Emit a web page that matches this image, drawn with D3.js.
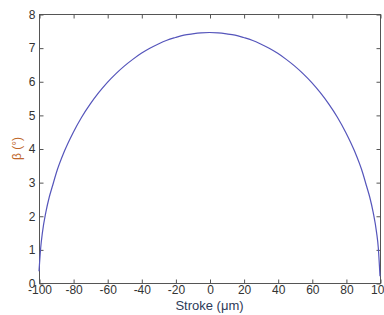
<!DOCTYPE html>
<html>
<head>
<meta charset="utf-8">
<script src="https://cdn.jsdelivr.net/npm/d3@7"></script>
<style>
body { margin: 0; background: #fff; }
svg { display: block; font-family: "Liberation Sans", Arial, sans-serif; }
</style>
</head>
<body>
<svg id="chart" width="384" height="315"></svg>
<script>
// stroke position (um) and tilt angle beta (deg)
var stroke = [-100, -99, -98, -96, -94, -92, -90, -85, -80, -75, -70, -65, -60, -55, -50, -45, -40, -35, -30, -25, -20, -15, -10, -5,
    0, 5, 10, 15, 20, 25, 30, 35, 40, 45, 50, 55, 60, 65, 70, 75, 80, 85, 90, 92, 94, 96, 98, 99, 100];
var beta = [0.35, 1.05, 1.5, 2.1, 2.55, 2.9, 3.25, 3.93, 4.47, 4.93, 5.32, 5.66, 5.96, 6.22, 6.45, 6.65, 6.83, 6.98, 7.11, 7.22, 7.3, 7.37, 7.41, 7.44,
    7.45, 7.44, 7.41, 7.37, 7.3, 7.22, 7.11, 6.98, 6.83, 6.65, 6.45, 6.22, 5.96, 5.66, 5.32, 4.93, 4.47, 3.93, 3.25, 2.9, 2.55, 2.1, 1.5, 1.05, 0.2];
var xTicks = [-100, -80, -60, -40, -20, 0, 20, 40, 60, 80, 100];
var yTicks = [0, 1, 2, 3, 4, 5, 6, 7, 8];

(function () {
    var svg = d3.select('#chart');
    var mLeft = 39, mRight = 380, mTop = 14, mBottom = 283;

    var x = d3.scaleLinear().domain([-100, 100]).range([mLeft, mRight]);
    var y = d3.scaleLinear().domain([0, 8]).range([mBottom, mTop]);

    var axisColor = '#555';
    var tickLen = 4;
    var plain = function (d) { return String(d); };

    // plot box
    svg.append('rect')
        .attr('x', mLeft + 0.5).attr('y', mTop + 0.5)
        .attr('width', mRight - mLeft).attr('height', mBottom - mTop)
        .attr('fill', 'none').attr('stroke', axisColor);

    function styleAxis(g) {
        g.select('.domain').remove();
        g.selectAll('.tick line').attr('stroke', axisColor);
        g.selectAll('.tick text').attr('fill', '#333').attr('font-size', 12)
            .attr('font-family', '"Liberation Sans", Arial, sans-serif');
    }

    svg.append('g')
        .attr('transform', 'translate(0.5,' + (mBottom + 0.5) + ')')
        .call(d3.axisBottom(x).tickValues(xTicks).tickSize(-tickLen).tickPadding(2).tickFormat(plain))
        .call(styleAxis);
    svg.append('g')
        .attr('transform', 'translate(0.5,' + (mTop + 0.5) + ')')
        .call(d3.axisTop(x).tickValues(xTicks).tickSize(-tickLen).tickFormat(''))
        .call(styleAxis);
    svg.append('g')
        .attr('transform', 'translate(' + (mLeft + 0.5) + ',0.5)')
        .call(d3.axisLeft(y).tickValues(yTicks).tickSize(-tickLen).tickPadding(4).tickFormat(plain))
        .call(styleAxis);
    svg.append('g')
        .attr('transform', 'translate(' + (mRight + 0.5) + ',0.5)')
        .call(d3.axisRight(y).tickValues(yTicks).tickSize(-tickLen).tickFormat(''))
        .call(styleAxis);

    // curve
    var line = d3.line()
        .x(function (d, i) { return x(stroke[i]); })
        .y(function (d) { return y(d); })
        .curve(d3.curveMonotoneX);

    svg.append('path')
        .datum(beta)
        .attr('d', line)
        .attr('fill', 'none')
        .attr('stroke', '#5555bb')
        .attr('stroke-width', 1.2);

    // labels
    svg.append('text')
        .attr('x', (mLeft + mRight) / 2).attr('y', 310)
        .attr('text-anchor', 'middle')
        .attr('font-size', 13)
        .attr('fill', '#2e3b58')
        .text('Stroke (\u03bcm)');

    svg.append('text')
        .attr('transform', 'translate(21,' + ((mTop + mBottom) / 2) + ') rotate(-90)')
        .attr('text-anchor', 'middle')
        .attr('font-size', 12)
        .attr('fill', '#c0662a')
        .text('\u03b2 (\u00b0)');
})();
</script>
</body>
</html>
